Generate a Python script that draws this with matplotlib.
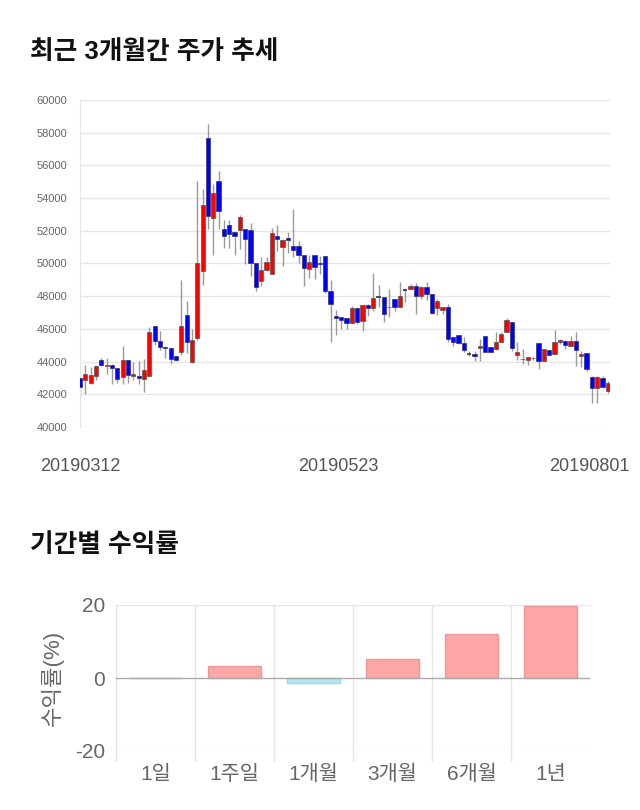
import numpy as np
import matplotlib.pyplot as plt

plt.rcParams['font.family'] = ['Liberation Sans', 'Noto Sans CJK KR', 'DejaVu Sans']
plt.rcParams['axes.unicode_minus'] = False

# daily candles, 2019-03-12 .. 2019-08-01
opens = [43000, 42860, 42700, 43100, 44120, 43750, 43780, 43600, 43040, 44100,
         43140, 43140, 42940, 43100, 46200, 45290, 44920, 44840, 44330, 44610,
         46880, 43980, 45470, 49570, 57650, 52800, 55040, 52120, 52330, 51940,
         52020, 52120, 52020, 50000, 48920, 49610, 49370, 51710, 51000, 51530,
         51040, 51040, 50530, 49690, 50530, 50020, 50430, 48330, 46760, 46740,
         46690, 46390, 47270, 46490, 47450, 47270, 47980, 47980, 47340, 47800,
         47370, 48390, 48450, 48650, 48000, 48550, 48140, 47270, 47180, 47330,
         45490, 45630, 45140, 44470, 44470, 44820, 45550, 44880, 44770, 45180,
         45800, 46450, 44420, 44150, 44110, 44210, 45140, 44010, 44730, 44460,
         45180, 45280, 44980, 45240, 44360, 44500, 43030, 42370, 42990, 42210]
highs = [43100, 43780, 43680, 43820, 44220, 44250, 43860, 43600, 44940, 44100,
         43960, 44020, 44160, 46120, 46200, 45860, 44980, 44840, 44330, 49020,
         47700, 46020, 55040, 54530, 58550, 54840, 55650, 52690, 52630, 51940,
         52940, 52120, 52490, 50000, 50390, 50390, 52180, 52330, 51470, 51900,
         53330, 51390, 50530, 50530, 50530, 50430, 50430, 48980, 47140, 46740,
         46690, 47410, 47270, 47490, 47550, 49410, 48670, 47980, 48430, 47800,
         48860, 48450, 48760, 48820, 48600, 48860, 48140, 47800, 47330, 47530,
         45490, 45630, 45490, 44670, 44670, 45390, 45550, 44880, 45800, 45800,
         46660, 46450, 45180, 44770, 44260, 44300, 45140, 44770, 44730, 45960,
         45380, 45330, 45590, 45800, 44670, 44500, 43130, 43130, 43130, 42800]
lows = [41800, 42040, 42600, 42900, 43710, 43250, 42650, 42700, 42600, 42700,
        42860, 42600, 42120, 43100, 45040, 44740, 44220, 43860, 44020, 44390,
        44530, 43940, 45300, 48710, 52120, 50550, 52080, 50920, 50960, 50550,
        50860, 49940, 49220, 48310, 48610, 49530, 49330, 50760, 49840, 50670,
        50370, 50060, 48630, 49100, 49040, 49350, 48220, 45220, 45610, 45980,
        45980, 46390, 46290, 45880, 46800, 47100, 47310, 46430, 46740, 47120,
        47370, 47630, 48450, 46920, 47800, 47740, 46920, 46820, 46920, 45180,
        44980, 45100, 44570, 44330, 44060, 44060, 44570, 44570, 44710, 45180,
        45780, 44670, 44110, 43850, 43790, 44090, 43540, 44010, 44420, 44460,
        45080, 44770, 44980, 43750, 43640, 43400, 41490, 41490, 42370, 42100]
closes = [42450, 43250, 43150, 43730, 43780, 43800, 43600, 42940, 44100, 43160,
          43270, 42980, 43510, 45820, 45290, 44880, 44820, 44160, 44120, 46160,
          45200, 45310, 50020, 53550, 52900, 54330, 53200, 51710, 51820, 51710,
          52840, 51510, 50000, 48570, 49630, 50100, 51840, 51510, 51410, 51430,
          50840, 50510, 49710, 50120, 49800, 49940, 48330, 47510, 46690, 46550,
          46390, 47270, 46450, 47490, 47250, 47920, 47980, 46940, 47350, 47370,
          48000, 48390, 48610, 48040, 48550, 48140, 46980, 47690, 47330, 45390,
          45180, 45140, 44740, 44470, 44370, 44980, 44610, 44570, 45180, 45690,
          46550, 44810, 44570, 44160, 44260, 44220, 44010, 44770, 44420, 45180,
          45320, 45040, 45280, 44710, 44460, 43540, 42370, 43030, 42450, 42720]
date_labels = ['20190312', '20190523', '20190801']
date_idx = [0, 48.5, 95.5]

periods = ['1일', '1주일', '1개월', '3개월', '6개월', '1년']
returns = [0.0, 3.3, -1.5, 5.3, 12.1, 19.7]

fig = plt.figure(figsize=(6.4, 8.1), dpi=100)

# ---- candle chart
fig.text(30/640, 1 - 52/810, '최근 3개월간 주가 추세', fontsize=18.5, fontweight='bold',
         va='center', ha='left', color='#111111')
ax = fig.add_axes([80/640, 1 - 427/810, 530/640, 327/810])
o = np.array(opens)
c = np.array(closes)
x = np.arange(len(o))
ax.vlines(x, lows, highs, color='#999999', lw=1, zorder=2)
up = c > o
dn = c < o
eq = c == o
ax.bar(x[up], (c - o)[up], bottom=o[up], width=0.8, color='#ff0000',
       edgecolor='#555555', lw=0.5, zorder=3)
ax.bar(x[dn], (c - o)[dn], bottom=o[dn], width=0.8, color='#0000ff',
       edgecolor='#333366', lw=0.5, zorder=3)
ax.hlines(c[eq], x[eq] - 0.4, x[eq] + 0.4, color='#333333', lw=1.2, zorder=3)

ax.set_xlim(0, 99.4)
ax.set_ylim(40000, 60000)
ax.set_yticks(np.arange(40000, 60001, 2000))
ax.set_xticks(date_idx)
ax.set_xticklabels(date_labels)
ax.tick_params(axis='y', length=0, labelsize=8, labelcolor='#666666', pad=9)
ax.tick_params(axis='x', length=0, labelsize=13, labelcolor='#555555', pad=22)
ax.grid(axis='y', color='#e6e6e6', lw=1)
for s in ['top', 'right', 'bottom']:
    ax.spines[s].set_visible(False)
ax.spines['left'].set_color('#e6e6e6')
ax.set_axisbelow(True)

# ---- period returns
fig.text(30/640, 1 - 545/810, '기간별 수익률', fontsize=18.5, fontweight='bold',
         va='center', ha='left', color='#111111')
bx = fig.add_axes([116/640, 1 - 751/810, 474/640, 146/810])
colors = ['#ffa6a6' if v >= 0 else '#aeeaf2' for v in returns]
edges = ['#e89a9a' if v >= 0 else '#9ad8e2' for v in returns]
bx.bar(np.arange(len(periods)), returns, width=0.68, color=colors,
       edgecolor=edges, lw=1, zorder=3)
bx.set_xlim(-0.5, len(periods) - 0.5)
bx.set_ylim(-20, 20)
bx.set_yticks([-20, 0, 20])
bx.set_xticks(np.arange(len(periods)))
bx.set_xticklabels(periods)
for b in np.arange(len(periods)) - 0.5:
    bx.axvline(b, color='#e6e6e6', lw=1, zorder=1, ymin=-0.07, clip_on=False)
bx.axhline(20, color='#e6e6e6', lw=1, zorder=1)
bx.axhline(-20, color='#e6e6e6', lw=1, zorder=1)
bx.axhline(0, color='#aaaaaa', lw=1, zorder=4)
bx.tick_params(length=0, labelsize=15, labelcolor='#666666')
bx.tick_params(axis='x', pad=10)
bx.tick_params(axis='y', pad=8)
for s in bx.spines.values():
    s.set_visible(False)
bx.set_ylabel('수익률(%)', fontsize=16, color='#666666', labelpad=8)

fig.savefig('out.png', dpi=100)
